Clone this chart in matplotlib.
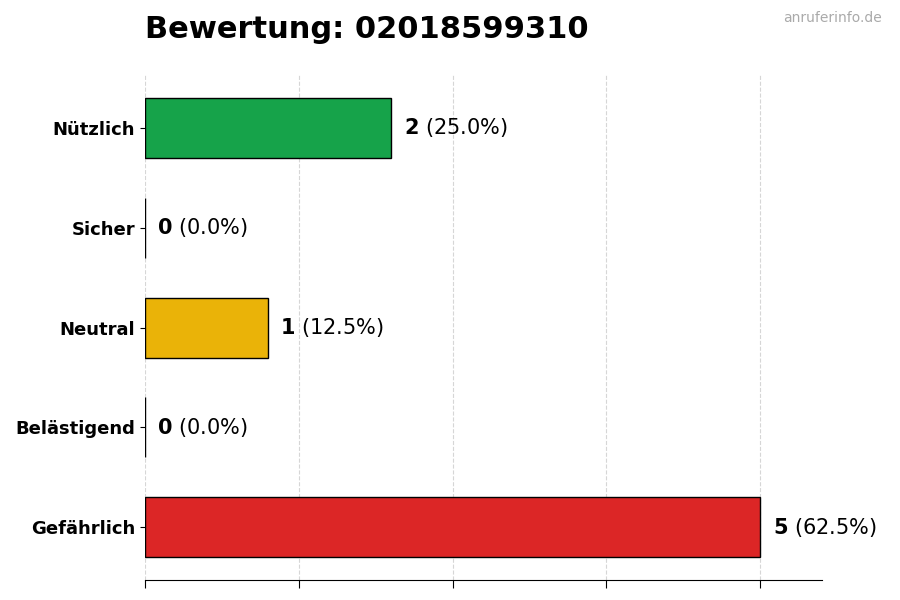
import matplotlib.pyplot as plt

# Daten
kategorien = ["Nützlich", "Sicher", "Neutral", "Belästigend", "Gefährlich"]
anzahl = [2, 0, 1, 0, 5]
farben = ["#16a34a", "#22c55e", "#eab308", "#f97316", "#dc2626"]
titel = "Bewertung: 02018599310"
quelle = "anruferinfo.de"

gesamt = sum(anzahl)

fig = plt.figure(figsize=(9, 6), dpi=100)
ax = fig.add_axes([0.161, 0.033, 0.752, 0.842])

y = list(range(len(kategorien)))[::-1]
ax.barh(y, anzahl, height=0.6, color=farben, edgecolor="black", linewidth=1, zorder=3)

# Beschriftung rechts neben den Balken
for yi, n in zip(y, anzahl):
    proz = n / gesamt * 100
    ax.annotate(f"$\\bf{{{n}}}$ ({proz:.1f}%)", (n, yi), xytext=(9, 0),
                textcoords="offset points", va="center", ha="left", fontsize=15)

ax.set_yticks(y)
ax.set_yticklabels(kategorien, fontsize=13, fontweight="bold")
ax.set_xlim(0, 5.5)
ax.set_xticks([0, 1.25, 2.5, 3.75, 5])
ax.set_xticklabels([])
ax.tick_params(axis="x", length=6)
ax.grid(axis="x", linestyle="--", color="#cccccc", alpha=0.8, zorder=0)

for s in ["top", "right", "left"]:
    ax.spines[s].set_visible(False)

fig.text(0.161, 0.95, titel, fontsize=22, fontweight="bold", ha="left", va="center")
fig.text(0.98, 0.97, quelle, fontsize=10, color="#aaaaaa", ha="right", va="center")

fig.savefig("out.png", dpi=100)
